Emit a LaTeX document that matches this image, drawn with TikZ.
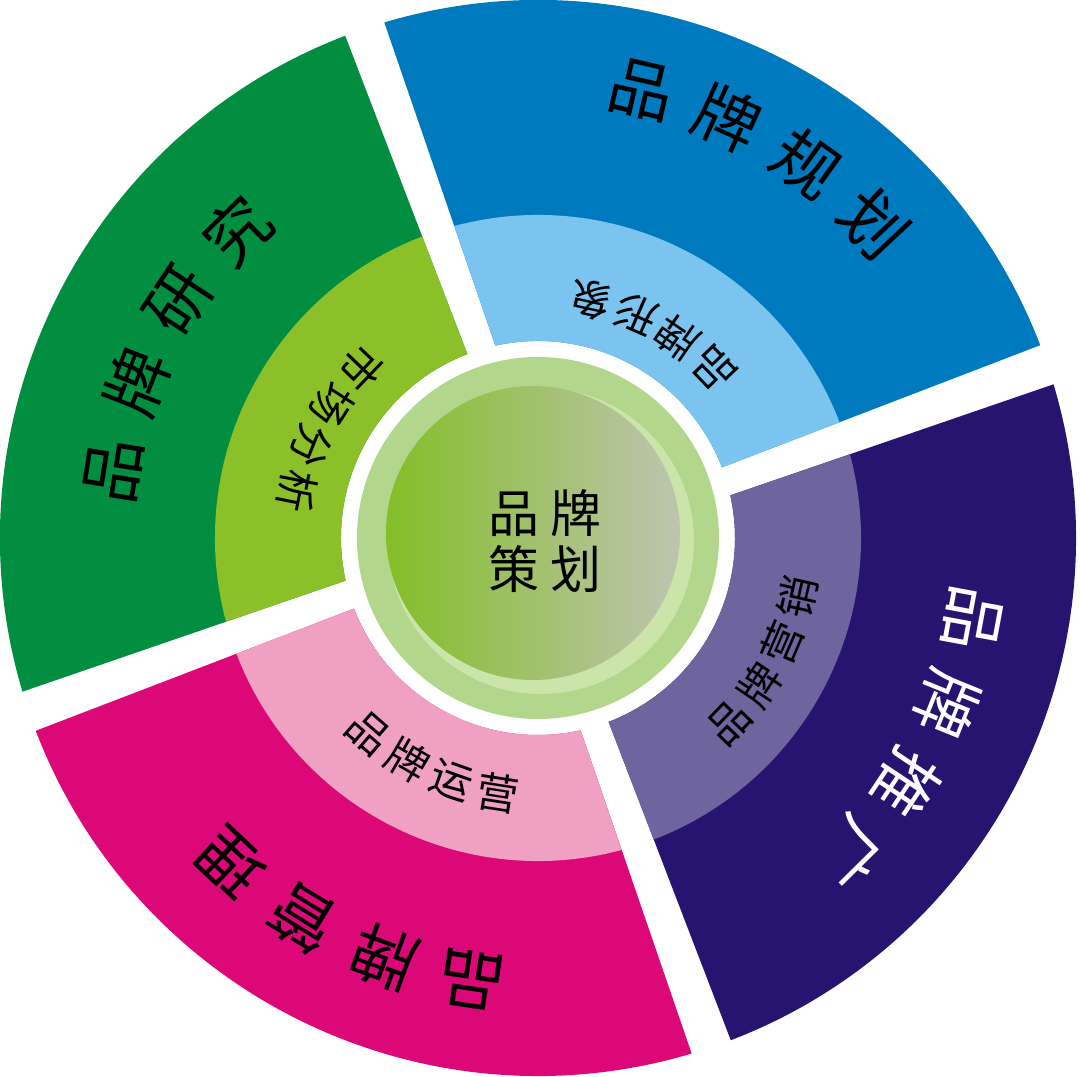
\documentclass[tikz,border=0pt]{standalone}
\usepackage{fontspec}
\newfontfamily\cjk{Noto Sans CJK SC}
\usepackage{tikz}
\usetikzlibrary{positioning}

\definecolor{greendk}{RGB}{2,142,64}
\definecolor{greenlt}{RGB}{140,192,40}
\definecolor{bluedk}{RGB}{0,122,190}
\definecolor{bluelt}{RGB}{124,196,240}
\definecolor{purpledk}{RGB}{38,20,112}
\definecolor{purplelt}{RGB}{110,100,158}
\definecolor{pinkdk}{RGB}{220,8,120}
\definecolor{pinklt}{RGB}{240,160,195}
\definecolor{ringgreen}{RGB}{178,214,140}
\definecolor{glowgreen}{RGB}{202,228,170}
\definecolor{coreleft}{RGB}{132,190,40}
\definecolor{coreright}{RGB}{190,196,176}

\begin{document}
\begin{tikzpicture} [x = 0.02cm, y = 0.02cm,
    outer/.style = {font = \cjk\fontsize{37}{37}\selectfont, inner sep = 0pt},
    inner/.style = {font = \cjk\fontsize{24}{24}\selectfont, inner sep = 0pt}]
    \useasboundingbox (-538,-539) rectangle (542,538);

    % four sectors, dark outer band and light inner band
    \foreach \a/\dk/\lt in {20/bluedk/bluelt, 110/greendk/greenlt, 200/pinkdk/pinklt, 290/purpledk/purplelt} {
        \fill [\dk] ({\a+1}:197) -- ({\a+1}:538) arc [start angle = \a+1, end angle = \a+86.6, radius = 538]
            -- ({\a+82.5}:197) arc [start angle = \a+82.5, end angle = \a+1, radius = 197] -- cycle;
        \fill [\lt] ({\a+1}:197) -- ({\a+1}:323) arc [start angle = \a+1, end angle = \a+85, radius = 323]
            -- ({\a+82.5}:197) arc [start angle = \a+82.5, end angle = \a+1, radius = 197] -- cycle;
    }

    % centre disc
    \fill [ringgreen] (0,0) circle [radius = 181];
    \fill [glowgreen] (3,-3) circle [radius = 153];
    \shade [left color = coreleft, right color = coreright] (-5,5) circle [radius = 147];
    \node (centre) at (7,-3) [font = \cjk\fontsize{29}{32}\selectfont, align = center] {品\hspace{6pt}牌\\策\hspace{6pt}划};

    % outer labels
    \foreach \ch [count = \i] in {品,牌,研,究}
        \node (yanjiu-\i) [outer, rotate = {171-12.2*(\i-1)-90}] at ({171-12.2*(\i-1)}:430) {\ch};
    \foreach \ch [count = \i] in {品,牌,规,划}
        \node (guihua-\i) [outer, rotate = {77-11.3*(\i-1)-90}] at ({77-11.3*(\i-1)}:460) {\ch};
    \foreach \ch [count = \i] in {品,牌,推,广}
        \node (tuiguang-\i) [outer, white, rotate = {-10.5-11.6*(\i-1)-90}] at ({-10.5-11.6*(\i-1)}:442) {\ch};
    \foreach \ch [count = \i] in {品,牌,管,理}
        \node (guanli-\i) [outer, rotate = {261.5-11.6*(\i-1)-90}] at ({261.5-11.6*(\i-1)}:447) {\ch};

    % inner labels
    \foreach \ch [count = \i] in {市,场,分,析}
        \node (fenxi-\i) [inner, rotate = {136.2+10.9*(\i-1)+90}] at ({136.2+10.9*(\i-1)}:245) {\ch};
    \foreach \ch [count = \i] in {品,牌,形,象}
        \node (xingxiang-\i) [inner, rotate = {44+11.2*(\i-1)+90}] at ({44+11.2*(\i-1)}:244) {\ch};
    \foreach \ch [count = \i] in {品,牌,营,销}
        \node (yingxiao-\i) [inner, rotate = {-44+10.4*(\i-1)+90}] at ({-44+10.4*(\i-1)}:266) {\ch};
    \foreach \ch [count = \i] in {品,牌,运,营}
        \node (yunying-\i) [inner, rotate = {229+10.7*(\i-1)+90}] at ({229+10.7*(\i-1)}:258) {\ch};

\end{tikzpicture}
\end{document}
